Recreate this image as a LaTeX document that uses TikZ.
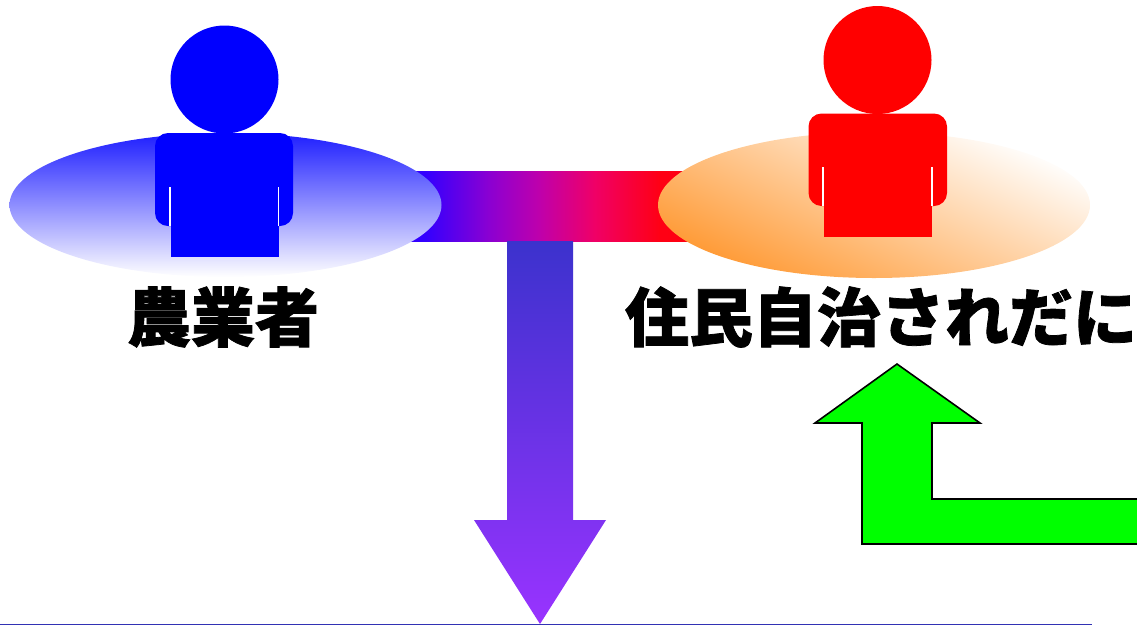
\documentclass[tikz,border=0pt]{standalone}
\usepackage{fontspec}
\newfontfamily\cjk[FakeBold=1.2]{Noto Sans CJK JP Black}
\definecolor{orangeG}{RGB}{255,153,51}
\definecolor{orangeM}{RGB}{255,205,170}
\definecolor{blueM}{RGB}{185,185,252}
\definecolor{blueT}{RGB}{30,30,255}
\definecolor{purpTop}{RGB}{60,50,205}
\definecolor{purpBot}{RGB}{153,51,255}
\definecolor{baseLine}{RGB}{50,50,180}
\pgfdeclarehorizontalshading{barshade}{100bp}{
  rgb(0bp)=(0.2,0,1);
  rgb(29.3bp)=(0.2,0,1);
  rgb(40.5bp)=(0.55,0,0.82);
  rgb(49.1bp)=(0.75,0,0.67);
  rgb(58.6bp)=(0.94,0,0.4);
  rgb(69.8bp)=(1,0,0.08);
  rgb(100bp)=(1,0,0)}
\tikzset{
  gap/.style={fill=white,draw=none},
  label/.style={inner sep=0pt,font=\cjk\fontsize{64}{64}\selectfont,text=black},
  greenarrow/.style={fill=green,draw=black,line width=1.6pt,line join=miter}
}
\begin{document}
\begin{tikzpicture}[x=1pt,y=-1pt]
\useasboundingbox (0,0) rectangle (1137,625);
% bars and arrow
\shade[shading=barshade] (400,171) rectangle (690,241);
\shade[top color=purpTop,bottom color=purpBot]
  (507,241) -- (573,241) -- (573,520) -- (606,520) -- (540,624) -- (474,520) -- (507,520) -- cycle;
\draw[baseLine,line width=1pt] (0,624.5) -- (1092,624.5);
% ellipses
\shade[top color=blueT,middle color=blueM,bottom color=white] (225.5,205) ellipse (216 and 72);
\shade[top color=white,middle color=orangeM,bottom color=orangeG,shading angle=-25] (874,205) ellipse (216 and 73);
% left person
\fill[blue,rounded corners=13pt] (155,133) rectangle (293,226);
\fill[gap] (169,187) rectangle (171,226);
\fill[gap] (277,187) rectangle (279,226);
\fill[blue] (171,133) rectangle (277.5,257);
\fill[blue] (171,226) rectangle (279,257);
\fill[blue] (224.5,79.5) circle (54);
% right person
\fill[red,rounded corners=13pt] (808.5,113.5) rectangle (947,206);
\fill[gap] (822,167) rectangle (824,206);
\fill[gap] (931,167) rectangle (933,206);
\fill[red] (824,113.5) rectangle (931,237);
\fill[red] (824,206) rectangle (932,237);
\fill[red] (877.5,60) circle (54);
% labels
\node[label] (farmer) at (223,317) {農業者};
\node[label] (residents) at (881,317) {住民自治されだに};
% green arrow
\draw[greenarrow] (897,364) -- (980,423) -- (932,423) -- (932,499) -- (1139,499) -- (1139,544) -- (862,544) -- (862,423) -- (815,423) -- cycle;
\end{tikzpicture}
\end{document}
